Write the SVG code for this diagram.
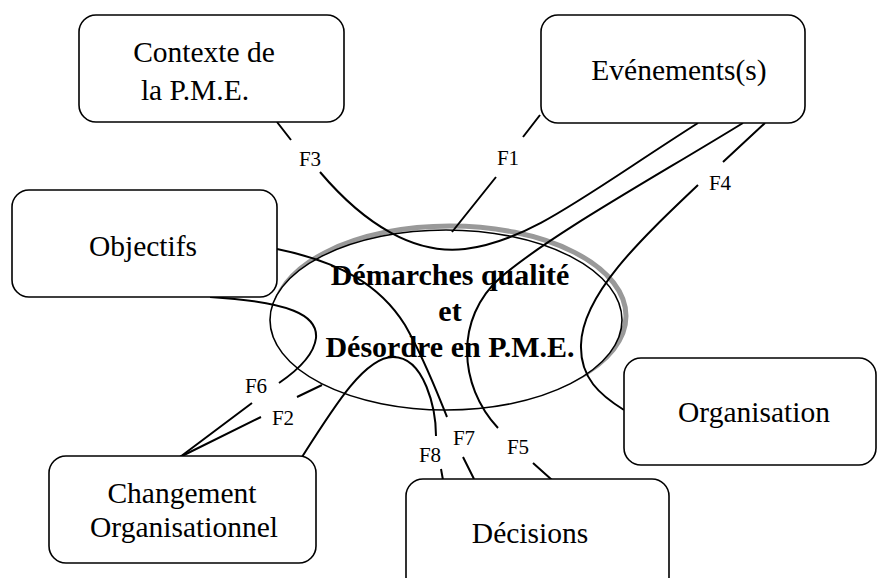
<svg xmlns="http://www.w3.org/2000/svg" width="878" height="578" viewBox="0 0 878 578">
<style>
.box{fill:#fff;stroke:#000;stroke-width:1.6}
.t{font-family:"Liberation Serif","Times New Roman",serif;font-size:29.5px;fill:#000;text-anchor:middle}
.c{font-family:"Liberation Serif","Times New Roman",serif;font-size:30px;font-weight:bold;fill:#000;text-anchor:middle}
.lbl{font-family:"Liberation Serif","Times New Roman",serif;font-size:21px;fill:#000;text-anchor:middle}
.ln{fill:none;stroke:#000;stroke-width:2}
</style>
<rect width="878" height="578" fill="#fff"/>
<g id="centre">
<ellipse cx="450" cy="316" rx="176" ry="90" fill="none" stroke="#999" stroke-width="5"/>
<ellipse cx="446" cy="320" rx="176" ry="90" fill="#fff" stroke="none"/>
</g>
<g id="connectors">
<path class="ln" d="M277,122 L291,140 M320,172 C365,225 415,255 465,249 C530,241 585,195 698,123"/>
<path class="ln" d="M540,115 L523,137 M496,177 L452,232"/>
<path class="ln" d="M743,123 C650,180 550,235 500,278 C455,318 458,385 498,428 M533,463 L552,480"/>
<path class="ln" d="M765,123 L723,162 M698,185 C640,240 582,295 581,345 C580,378 600,395 624,410"/>
<path class="ln" d="M302,457 C335,405 365,357 393,357 C425,357 436,410 436,436 M441,469 L443,480"/>
<path class="ln" d="M277,249 C340,262 380,285 405,325 C425,360 438,395 447,417 M463,457 L474,479"/>
<path class="ln" d="M210,297 C290,302 318,315 316,338 C314,355 298,370 279,383 M252,403 L180,457"/>
<path class="ln" d="M180,457 L261,417 M297,397 L322,385"/>
<text class="lbl" x="310" y="166">F3</text>
<text class="lbl" x="508" y="165">F1</text>
<text class="lbl" x="720" y="190">F4</text>
<text class="lbl" x="256" y="393">F6</text>
<text class="lbl" x="283" y="425">F2</text>
<text class="lbl" x="430" y="462">F8</text>
<text class="lbl" x="464" y="445">F7</text>
<text class="lbl" x="518" y="454">F5</text>
</g>
<g id="centre-label">
<ellipse cx="446" cy="320" rx="176" ry="90" fill="none" stroke="#000" stroke-width="1.6"/>
<text class="c" x="450" y="285">Démarches qualité</text>
<text class="c" x="450" y="321">et</text>
<text class="c" x="450" y="357">Désordre en P.M.E.</text>
</g>
<g id="contexte">
<rect class="box" x="79" y="15" width="265" height="107" rx="17"/>
<text class="t" x="204" y="62">Contexte de</text>
<text class="t" x="195" y="100">la P.M.E.</text>
</g>
<g id="evenements">
<rect class="box" x="541" y="15" width="264" height="108" rx="17"/>
<text class="t" x="679" y="80">Evénements(s)</text>
</g>
<g id="objectifs">
<rect class="box" x="12" y="190" width="265" height="107" rx="17"/>
<text class="t" x="143" y="256">Objectifs</text>
</g>
<g id="organisation">
<rect class="box" x="624" y="358" width="252" height="107" rx="17"/>
<text class="t" x="754" y="422">Organisation</text>
</g>
<g id="changement">
<rect class="box" x="49" y="456" width="267" height="107" rx="17"/>
<text class="t" x="182" y="503">Changement</text>
<text class="t" x="184" y="537">Organisationnel</text>
</g>
<g id="decisions">
<rect class="box" x="406" y="479" width="263" height="115" rx="17"/>
<text class="t" x="530" y="543">Décisions</text>
</g>
</svg>
